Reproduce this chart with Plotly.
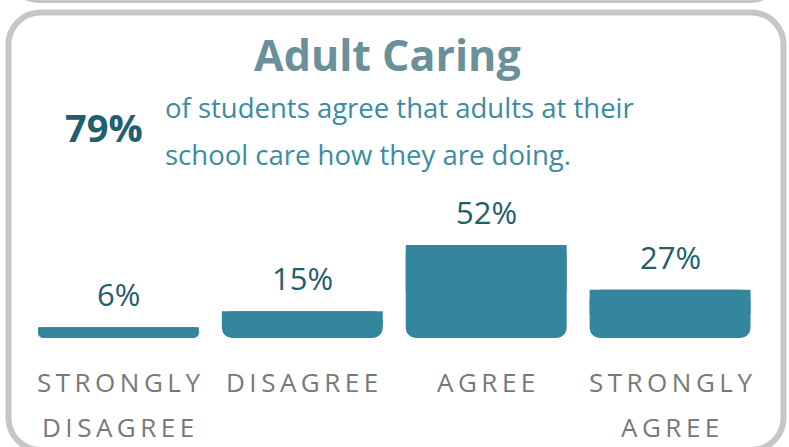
import plotly.graph_objects as go

W, H = 789, 447

CATEGORIES = ["Strongly Disagree", "Disagree", "Agree", "Strongly Agree"]
PERCENTS = [6, 15, 52, 27]
LABEL_LINES = [["STRONGLY", "DISAGREE"], ["DISAGREE"], ["AGREE"], ["STRONGLY", "AGREE"]]
TITLE = "Adult Caring"
HEADLINE = "79%"
BLURB = ["of students agree that adults at their", "school care how they are doing."]

BAR = "#33869d"
DARK = "#215e6e"
TITLE_C = "#6a9199"
BLURB_C = "#3a8ca2"
LABEL_C = "#787878"
BORDER = "#c6c6c6"
FONT = "Open Sans"
K = 0.5523


def px(x):
    return x / W


def py(y):
    return 1 - y / H


def rrect(x0, y0, x1, y1, r):
    # pixel box (top-left origin) -> rounded rect path in paper coords
    rx, ry = r / W, r / H
    L, R, T, B = px(x0), px(x1), py(y0), py(y1)
    c = 1 - K
    return (
        f"M {L+rx},{T} L {R-rx},{T} "
        f"C {R-rx*c},{T} {R},{T-ry*c} {R},{T-ry} "
        f"L {R},{B+ry} "
        f"C {R},{B+ry*c} {R-rx*c},{B} {R-rx},{B} "
        f"L {L+rx},{B} "
        f"C {L+rx*c},{B} {L},{B+ry*c} {L},{B+ry} "
        f"L {L},{T-ry} "
        f"C {L},{T-ry*c} {L+rx*c},{T} {L+rx},{T} Z"
    )


fig = go.Figure()

# rounded bars (all corners) ...
fig.add_trace(go.Bar(
    x=CATEGORIES, y=PERCENTS, base=[0] * len(PERCENTS),
    marker=dict(color=BAR, cornerradius=10, line=dict(width=0)),
    hoverinfo="skip", showlegend=False,
))
# ... with a square cap over the top half so only the bottom stays rounded
fig.add_trace(go.Bar(
    x=CATEGORIES, y=[v / 2 for v in PERCENTS], base=[v / 2 for v in PERCENTS],
    marker=dict(color=BAR, line=dict(width=0)),
    hoverinfo="skip", showlegend=False,
))

annotations = []
for cat, v in zip(CATEGORIES, PERCENTS):
    annotations.append(dict(
        x=cat, y=v, xref="x", yref="y", yshift=33,
        text=f"{v}%", showarrow=False, xanchor="center", yanchor="middle",
        font=dict(family=FONT, size=31, color=DARK),
    ))

for cat, lines in zip(CATEGORIES, LABEL_LINES):
    for i, line in enumerate(lines):
        annotations.append(dict(
            x=cat, xref="x", y=py(382 + 45 * i), yref="paper",
            text=f'<span style="letter-spacing:4.5px">{line}</span>',
            showarrow=False, xanchor="center", yanchor="middle", xshift=2,
            font=dict(family=FONT, size=26, color=LABEL_C),
        ))

annotations.append(dict(
    x=px(387), y=py(54), xref="paper", yref="paper",
    text=f"<b>{TITLE}</b>", showarrow=False, xanchor="center", yanchor="middle",
    font=dict(family=FONT, size=43, color=TITLE_C),
))
annotations.append(dict(
    x=px(104), y=py(127), xref="paper", yref="paper",
    text=f"<b>{HEADLINE}</b>", showarrow=False, xanchor="center", yanchor="middle",
    font=dict(family=FONT, size=38, color=DARK),
))
for i, line in enumerate(BLURB):
    annotations.append(dict(
        x=px(163), y=py(107 + 47 * i), xref="paper", yref="paper",
        text=line, showarrow=False, xanchor="left", yanchor="middle",
        font=dict(family=FONT, size=27.5, color=BLURB_C),
    ))

shapes = [
    dict(type="path", xref="paper", yref="paper",
         path=rrect(8.5, -60, 780.5, 0.5, 30),
         line=dict(color=BORDER, width=5), fillcolor="rgba(0,0,0,0)"),
    dict(type="path", xref="paper", yref="paper",
         path=rrect(8.5, 12.5, 783.5, 450, 32),
         line=dict(color=BORDER, width=6), fillcolor="rgba(0,0,0,0)"),
]

fig.update_layout(
    width=W, height=H,
    margin=dict(l=0, r=0, t=0, b=0),
    paper_bgcolor="white", plot_bgcolor="white",
    barmode="overlay",
    bargap=0.125,
    xaxis=dict(domain=[px(26.5), px(762)], range=[-0.5, 3.5],
               showticklabels=False, showgrid=False, zeroline=False,
               showline=False, fixedrange=True),
    yaxis=dict(domain=[py(338), py(230.6)], range=[0, 60],
               showticklabels=False, showgrid=False, zeroline=False,
               showline=False, fixedrange=True),
    annotations=annotations,
    shapes=shapes,
    font=dict(family=FONT),
)

fig.write_html(
    "out.html",
    config={"displayModeBar": False},
    post_script="document.body.style.margin='0';document.body.style.padding='0';",
)
